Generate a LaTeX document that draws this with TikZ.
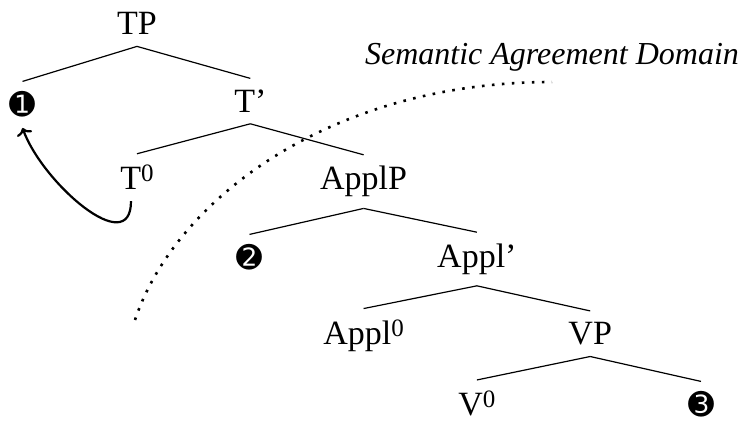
\documentclass[tikz,border=0pt]{standalone}
\usepackage{fontspec}
\setmainfont{Liberation Serif}
\newfontfamily\dingfont{DejaVu Sans}
\usetikzlibrary{arrows.meta}
\newcommand\zerobar{\raisebox{4pt}{\fontsize{12.5pt}{13pt}\selectfont 0}}

\begin{document}
\begin{tikzpicture}[
    x=0.5pt, y=-0.5pt,
    cat/.style={anchor=base, inner sep=5.5pt, font=\fontsize{17pt}{20pt}\selectfont},
    slot/.style={anchor=base, inner sep=5pt, font=\dingfont\fontsize{15.5pt}{17pt}\selectfont},
    branch/.style={line width=0.6pt},
    move/.style={-{To[length=3.5pt, width=8pt]}, line width=1.1pt},
    agreedom/.style={line width=1.3pt, dash pattern=on 1.3pt off 3.7pt}
  ]
    \useasboundingbox (0,0) rectangle (741,421);

    \node[cat] (TP) at (137,35) {TP};
    \node[slot] (one) at (22.5,116) {➊};
    \node[cat] (Tbar) at (250.3,112.4) {T'};
    \node[cat] (T0) at (137,189.8) {T\zerobar};
    \node[cat] (ApplP) at (363.6,189.8) {ApplP};
    \node[slot] (two) at (249.5,269) {➋};
    \node[cat] (Applbar) at (476.9,267.2) {Appl'};
    \node[cat] (Appl0) at (363.6,344.6) {Appl\zerobar};
    \node[cat] (VP) at (590.2,344.6) {VP};
    \node[cat] (V0) at (476.9,416) {V\zerobar};
    \node[slot] (three) at (701,416) {➌};

    \node[anchor=base, font=\fontsize{16pt}{19pt}\selectfont\itshape] (dom) at (552,65) {Semantic Agreement Domain};

    \draw[branch] (TP.south) -- (one.north);
    \draw[branch] (TP.south) -- (Tbar.north);
    \draw[branch] (Tbar.south) -- (T0.north);
    \draw[branch] (Tbar.south) -- (ApplP.north);
    \draw[branch] (ApplP.south) -- (two.north);
    \draw[branch] (ApplP.south) -- (Applbar.north);
    \draw[branch] (Applbar.south) -- (Appl0.north);
    \draw[branch] (Applbar.south) -- (VP.north);
    \draw[branch] (VP.south) -- (V0.north);
    \draw[branch] (VP.south) -- (three.north);

    % movement of T0 up to the first position
    \draw[move] ([xshift=-3pt]T0.south) to[out=-90, in=-70, looseness=1.15] (one.south);

    % domain boundary
    \draw[agreedom] (135,320) .. controls (175,200) and (330,82) .. (552,82);
\end{tikzpicture}
\end{document}
